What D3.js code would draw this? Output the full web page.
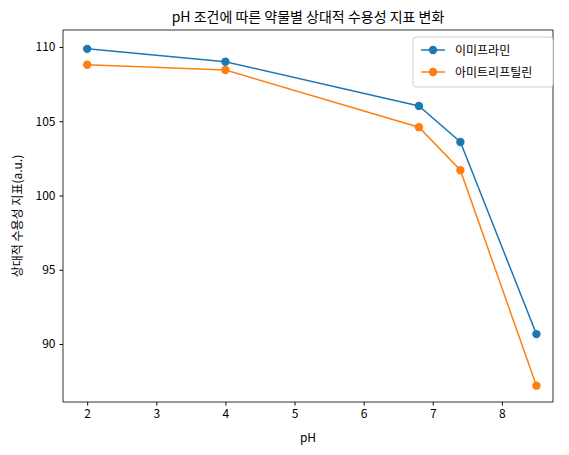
<!DOCTYPE html>
<meta charset="utf-8">
<title>pH chart</title>
<style>
body { margin: 0; background: #fff; }
text { font-family: "Noto Sans CJK KR", "DejaVu Sans", sans-serif; }
</style>
<body>
<script src="https://d3js.org/d3.v7.min.js"></script>
<script>

var phValues = [2, 4, 6.8, 7.4, 8.5];
var imipramine = [109.87, 109.0, 106.03, 103.6, 90.67];
var amitriptyline = [108.8, 108.45, 104.6, 101.7, 87.2];
var xTicks = [2, 3, 4, 5, 6, 7, 8];
var yTicks = [90, 95, 100, 105, 110];
var seriesNames = ["이미프라민", "아미트리프틸린"];
var colors = ["#1f77b4", "#ff7f0e"];

var W = 569, H = 455,
    mLeft = 63, mRight = 553, mTop = 30, mBottom = 402;

var svg = d3.select("body").append("svg").attr("width", W).attr("height", H);

var x = d3.scaleLinear().domain([1.65, 8.74]).range([mLeft, mRight]);
var y = d3.scaleLinear().domain([86.1, 111.14]).range([mBottom, mTop]);

svg.append("g").attr("transform", "translate(0," + mBottom + ")")
    .call(d3.axisBottom(x).tickValues(xTicks).tickSize(3.5).tickPadding(4).tickFormat(d3.format("d")))
    .call(function(g) { g.select(".domain").remove(); g.selectAll("text").attr("font-size", 12).attr("fill", "#000"); });

svg.append("g").attr("transform", "translate(" + mLeft + ",0)")
    .call(d3.axisLeft(y).tickValues(yTicks).tickSize(3.5).tickPadding(4))
    .call(function(g) { g.select(".domain").remove(); g.selectAll("text").attr("font-size", 12).attr("fill", "#000"); });

svg.append("rect").attr("x", mLeft).attr("y", mTop).attr("width", mRight - mLeft).attr("height", mBottom - mTop)
    .attr("fill", "none").attr("stroke", "#000").attr("stroke-width", 0.8);

[imipramine, amitriptyline].forEach(function(vals, i) {
  var pts = vals.map(function(v, j) { return [phValues[j], v]; });
  svg.append("path").datum(pts)
      .attr("d", d3.line().x(function(d) { return x(d[0]); }).y(function(d) { return y(d[1]); }))
      .attr("fill", "none").attr("stroke", colors[i]).attr("stroke-width", 1.5);
  svg.selectAll(".p" + i).data(pts).enter().append("circle")
      .attr("cx", function(d) { return x(d[0]); })
      .attr("cy", function(d) { return y(d[1]); })
      .attr("r", 4.2).attr("fill", colors[i]);
});

svg.append("text").attr("x", (mLeft + mRight) / 2).attr("y", 22).attr("text-anchor", "middle")
    .attr("font-size", 14).text("pH 조건에 따른 약물별 상대적 수용성 지표 변화");
svg.append("text").attr("x", (mLeft + mRight) / 2).attr("y", 442).attr("text-anchor", "middle")
    .attr("font-size", 12).text("pH");
svg.append("text").attr("transform", "translate(22," + (mTop + mBottom) / 2 + ") rotate(-90)")
    .attr("text-anchor", "middle").attr("font-size", 12).text("상대적 수용성 지표(a.u.)");

var lg = svg.append("g").attr("transform", "translate(413,37)");
lg.append("rect").attr("width", 140).attr("height", 50).attr("rx", 3)
    .attr("fill", "#fff").attr("stroke", "#ccc");
seriesNames.forEach(function(n, i) {
  var yy = 13 + i * 22;
  lg.append("line").attr("x1", 8).attr("x2", 32).attr("y1", yy).attr("y2", yy)
      .attr("stroke", colors[i]).attr("stroke-width", 1.5);
  lg.append("circle").attr("cx", 20).attr("cy", yy).attr("r", 4.2).attr("fill", colors[i]);
  lg.append("text").attr("x", 42).attr("y", yy + 4.5).attr("font-size", 12).text(n);
});

</script>
